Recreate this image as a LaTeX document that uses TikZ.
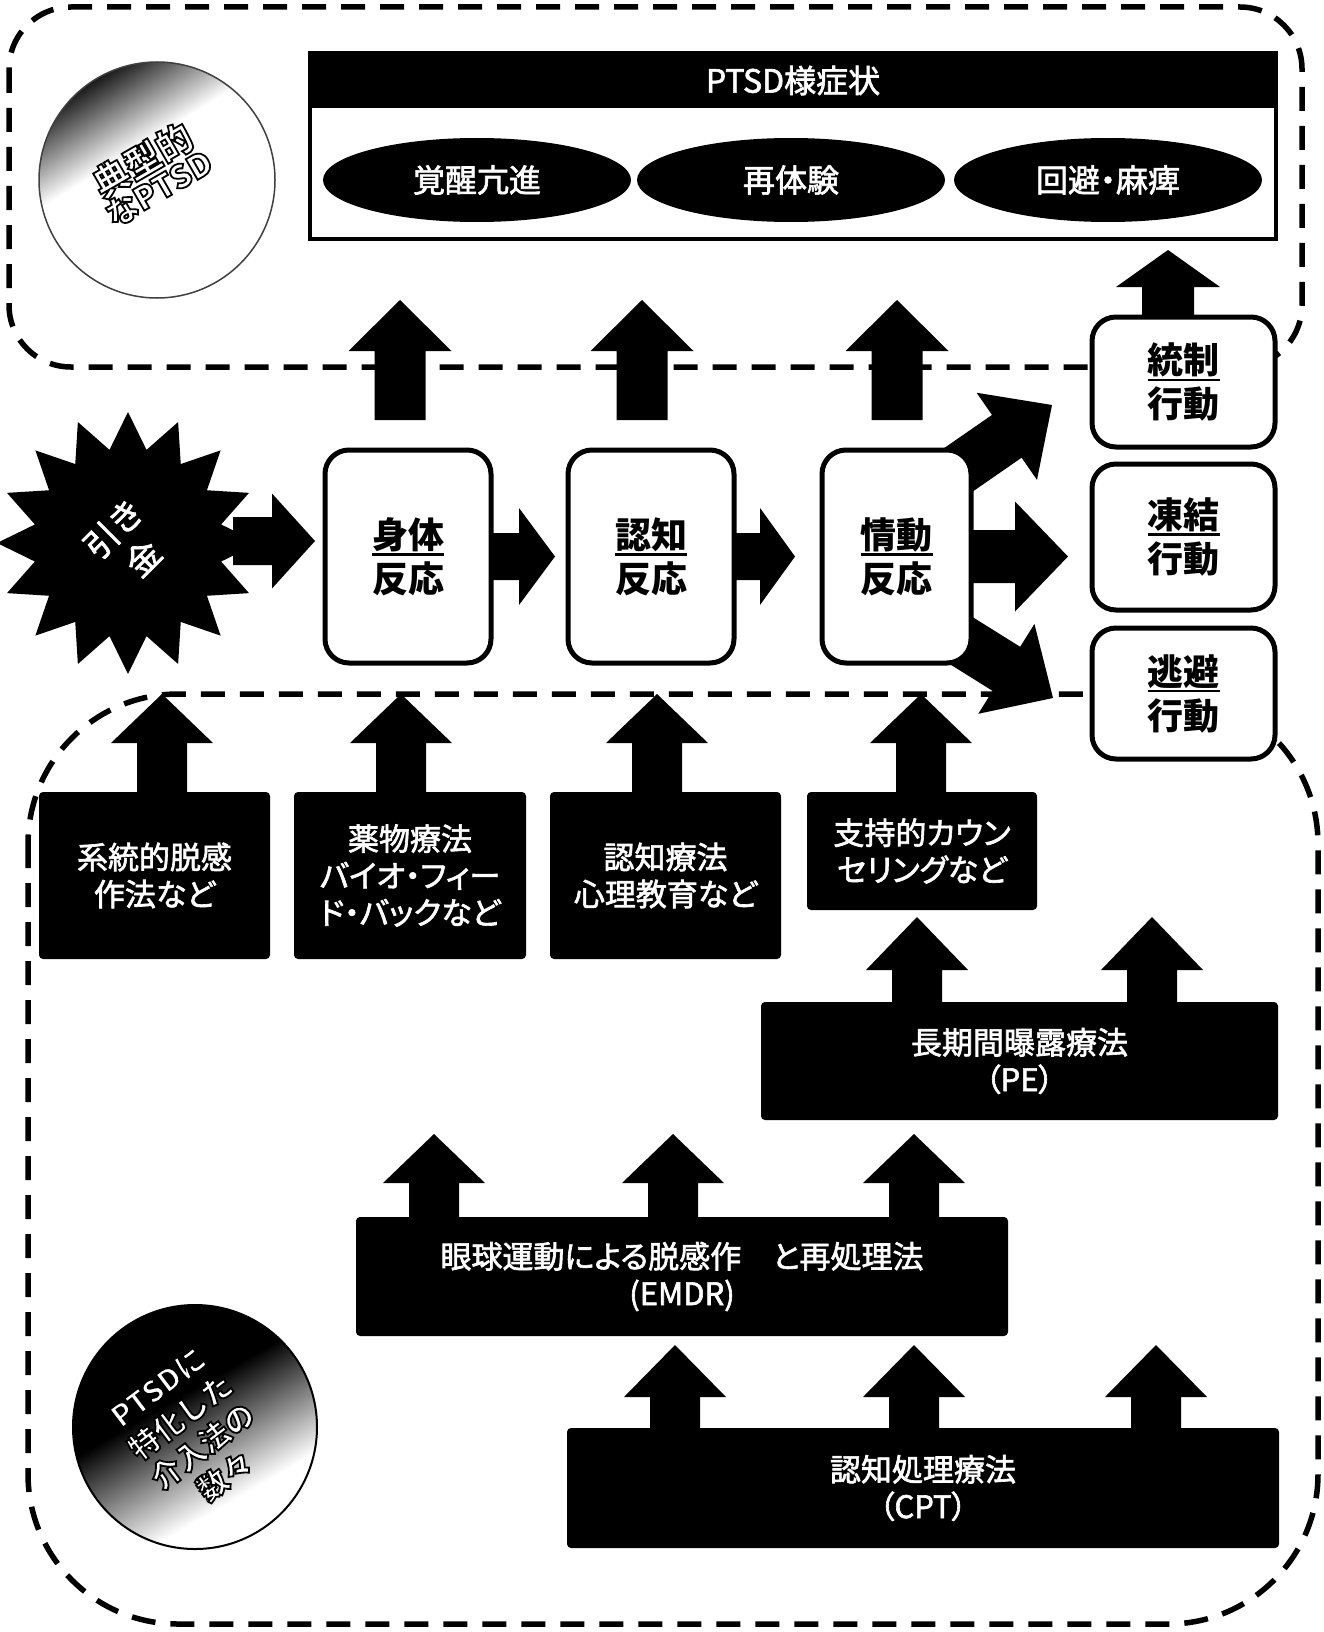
\documentclass[tikz,border=0pt]{standalone}
\usepackage{fontspec}
\setmainfont{Noto Sans CJK JP}
\newfontfamily\jpp[RawFeature=+palt, FakeBold=2]{Noto Sans CJK JP}
\newfontfamily\jpm[FakeBold=2]{Noto Sans CJK JP}
\usetikzlibrary{shapes.geometric,calc,backgrounds}
\pgfdeclarelayer{bgA}
\pgfdeclarelayer{bgB}
\pgfsetlayers{bgA,bgB,main}
\pgfdeclareverticalshading{fadeA}{100bp}{color(0bp)=(white); color(58bp)=(white); color(77bp)=(black); color(100bp)=(black)}
\pgfdeclareverticalshading{fadeB}{100bp}{color(0bp)=(white); color(33bp)=(white); color(57bp)=(black); color(100bp)=(black)}
\newcommand\myul[1]{\leavevmode\vtop{\hbox{#1}\kern1.5pt\hrule height 2.6pt}}
\newcommand\outl[1]{\special{pdf:literal direct 2 Tr 1.8 w 0 G}#1\special{pdf:literal direct 0 Tr}}
\newcommand\fatarrow[5]{%
  \path ($(#2)!#5!(#1)$) coordinate (fahd);
  \fill[black] ($(#1)!#3!90:(#2)$) -- ($(fahd)!#3!90:(#2)$) -- ($(fahd)!#4!90:(#2)$) -- (#2)
     -- ($(fahd)!#4!-90:(#2)$) -- ($(fahd)!#3!-90:(#2)$) -- ($(#1)!#3!-90:(#2)$) -- cycle;}
\begin{document}
\begin{tikzpicture}[x=1pt,y=-1pt,
  rbox/.style={draw, line width=5pt, rounded corners=24pt, fill=white, align=center, inner sep=0pt, outer sep=0pt, font=\bfseries\fontsize{36}{44}\selectfont},
  tbox/.style={fill=black, rounded corners=4pt, text=white, align=center, inner sep=0pt, outer sep=0pt, font=\jpp\fontsize{31}{37}\selectfont},
  ell/.style={ellipse, fill=black, text=white, minimum width=308pt, minimum height=84pt, inner sep=0pt, outer sep=0pt, font=\jpp\fontsize{32}{38}\selectfont},
  dashline/.style={line width=5.5pt, dash pattern=on 24pt off 15pt},
  ]
\useasboundingbox (0,0) rectangle (1323,1632);
\begin{pgfonlayer}{bgA}
\fill[white] (0,0) rectangle (1323,1632);
\draw[dashline, rounded corners=62pt] (9,7) rectangle (1302,367);
\draw[dashline, rounded corners=150pt] (28,694) rectangle (1318,1624);
\end{pgfonlayer}

% circles
\node[circle, shade, shading=fadeA, shading angle=32, draw=black!75, line width=1.5pt, minimum size=236pt, inner sep=0pt] (c1) at (157,180) {};
\node[rotate=30, text=white, align=center, font=\bfseries] (c1t) at (150,173) {{\fontsize{36}{48}\selectfont\outl{典型的}}\\{\fontsize{32}{40}\selectfont\outl{なPTSD}}};
\node[circle, shade, shading=fadeB, shading angle=30, draw, line width=2pt, minimum size=244pt, inner sep=0pt] (c2) at (195,1427) {};
\node[rotate=37, text=white, align=center, font=\bfseries\fontsize{30}{37}\selectfont] (c2t) at (192,1432) {\outl{PTSDに}\\\outl{特化した}\\\outl{介入法の}\\\outl{数々}};

% PTSD box
\node[fill=black, text=white, minimum width=966pt, minimum height=55pt, anchor=north west, inner sep=0pt, outer sep=0pt, font=\jpm\fontsize{32}{38}\selectfont] (hdr) at (310,53) {PTSD様症状};
\node[draw, line width=3.5pt, minimum width=966pt, minimum height=186pt, anchor=north west, inner sep=0pt, outer sep=0pt] (ptsd) at (310,53) {};
\node[ell] (e1) at (477,180) {覚醒亢進};
\node[ell] (e2) at (791,180) {再体験};
\node[ell] (e3) at (1108,180) {回避・麻痺};

% trigger
\node[star, star points=16, star point ratio=1.38, minimum size=262pt, fill=black, inner sep=0pt, rotate=45, text=white, align=center, font=\jpm\fontsize{34}{42}\selectfont] (trig) at (128,543) {引き\\金};

% reaction boxes
\node[rbox, minimum width=166pt, minimum height=213pt] (shintai) at (408,556.5) {\myul{身体}\\反応};
\node[rbox, minimum width=166pt, minimum height=213pt] (ninchi) at (651,556.5) {\myul{認知}\\反応};
\node[rbox, minimum width=149pt, minimum height=213pt] (jodo) at (896.5,556.5) {\myul{情動}\\反応};

% behaviour boxes
\node[rbox, minimum width=183pt, minimum height=130pt] (tosei) at (1183.5,382) {\myul{統制}\\行動};
\node[rbox, minimum width=183pt, minimum height=146pt] (toketsu) at (1183.5,537) {\myul{凍結}\\行動};
\node[rbox, minimum width=183pt, minimum height=131pt] (tohi) at (1183.5,693.5) {\myul{逃避}\\行動};

% treatment boxes
\node[tbox, minimum width=231pt, minimum height=167pt] (kei) at (154.5,875.5) {系統的脱感\\作法など};
\node[tbox, minimum width=232pt, minimum height=167pt] (yaku) at (410,875.5) {薬物療法\\バイオ・フィー\\ド・バックなど};
\node[tbox, minimum width=231pt, minimum height=167pt] (ninchiryo) at (665.5,875.5) {認知療法\\心理教育など};
\node[tbox, minimum width=230pt, minimum height=118pt] (shiji) at (922,851) {支持的カウン\\セリングなど};
\node[tbox, minimum width=517pt, minimum height=118pt] (pe) at (1019.5,1061) {長期間曝露療法\\（PE）};
\node[tbox, minimum width=652pt, minimum height=119pt] (emdr) at (682,1276.5) {眼球運動による脱感作　と再処理法\\(EMDR)};
\node[tbox, minimum width=712pt, minimum height=120pt] (cpt) at (923,1488) {認知処理療法\\（CPT）};

\begin{pgfonlayer}{bgB}
% reaction -> symptoms
\coordinate (u1s) at ($(shintai.north)+(-8,-30)$);
\coordinate (u1t) at ($(shintai.north)+(-8,-150)$);
\coordinate (u2s) at ($(ninchi.north)+(-9,-30)$);
\coordinate (u2t) at ($(ninchi.north)+(-9,-150)$);
\coordinate (u3s) at ($(jodo.north)+(0.5,-30)$);
\coordinate (u3t) at ($(jodo.north)+(0.5,-150)$);
\fatarrow{u1s}{u1t}{25.5pt}{51.5pt}{51pt}
\fatarrow{u2s}{u2t}{25.5pt}{51.5pt}{51pt}
\fatarrow{u3s}{u3t}{25.5pt}{51.5pt}{51pt}
% control -> symptoms
\coordinate (u4s) at ($(tosei.north)+(-15.5,0)$);
\coordinate (u4t) at ($(tosei.north)+(-15.5,-67)$);
\fatarrow{u4s}{u4t}{26pt}{52pt}{37pt}
% chain
\coordinate (h1s) at ($(trig.center)+(105,-2)$);
\coordinate (h1t) at ($(shintai.west)+(-10,-15.5)$);
\fatarrow{h1s}{h1t}{24pt}{47.5pt}{43pt}
\coordinate (h2s) at (shintai.east);
\coordinate (h2t) at ($(ninchi.west)+(-13,0)$);
\fatarrow{h2s}{h2t}{23.5pt}{48.5pt}{36pt}
\coordinate (h3s) at (ninchi.east);
\coordinate (h3t) at ($(jodo.west)+(-27,0)$);
\fatarrow{h3s}{h3t}{23.5pt}{48.5pt}{35pt}
% emotion -> behaviours
\coordinate (d1s) at ($(jodo.center)+(40,-71.5)$);
\coordinate (d1t) at ($(jodo.center)+(155.5,-151.5)$);
\fatarrow{d1s}{d1t}{26pt}{53pt}{55pt}
\coordinate (d2s) at ($(jodo.center)+(40,0)$);
\coordinate (d2t) at ($(jodo.east)+(97,0)$);
\fatarrow{d2s}{d2t}{26.5pt}{55pt}{53pt}
\coordinate (d3s) at ($(jodo.center)+(37.8,67.3)$);
\coordinate (d3t) at ($(jodo.center)+(156.5,141.5)$);
\fatarrow{d3s}{d3t}{26pt}{53pt}{55pt}
% treatments -> reactions
\coordinate (t1s) at ($(kei.north)+(7.5,0)$);
\coordinate (t1t) at ($(kei.north)+(7.5,-98)$);
\fatarrow{t1s}{t1t}{25pt}{51pt}{49pt}
\coordinate (t2s) at ($(yaku.north)+(-9,0)$);
\coordinate (t2t) at ($(yaku.north)+(-9,-98)$);
\fatarrow{t2s}{t2t}{25pt}{51pt}{49pt}
\coordinate (t3s) at ($(ninchiryo.north)+(-8.5,0)$);
\coordinate (t3t) at ($(ninchiryo.north)+(-8.5,-98)$);
\fatarrow{t3s}{t3t}{25pt}{51pt}{49pt}
\coordinate (t4s) at ($(shiji.north)+(-1,0)$);
\coordinate (t4t) at ($(shiji.north)+(-1,-98)$);
\fatarrow{t4s}{t4t}{25pt}{51pt}{49pt}
% PE
\coordinate (p1s) at ($(pe.north)+(-102.5,0)$);
\coordinate (p1t) at ($(pe.north)+(-102.5,-85)$);
\fatarrow{p1s}{p1t}{25pt}{51pt}{53pt}
\coordinate (p2s) at ($(pe.north)+(132.5,0)$);
\coordinate (p2t) at ($(pe.north)+(132.5,-85)$);
\fatarrow{p2s}{p2t}{25pt}{51pt}{53pt}
% EMDR
\coordinate (m1s) at ($(emdr.north)+(-248,0)$);
\coordinate (m1t) at ($(emdr.north)+(-248,-83)$);
\fatarrow{m1s}{m1t}{25pt}{51pt}{49pt}
\coordinate (m2s) at ($(emdr.north)+(-9,0)$);
\coordinate (m2t) at ($(emdr.north)+(-9,-83)$);
\fatarrow{m2s}{m2t}{25pt}{51pt}{49pt}
\coordinate (m3s) at ($(emdr.north)+(232,0)$);
\coordinate (m3t) at ($(emdr.north)+(232,-83)$);
\fatarrow{m3s}{m3t}{25pt}{51pt}{49pt}
% CPT
\coordinate (k1s) at ($(cpt.north)+(-248,0)$);
\coordinate (k1t) at ($(cpt.north)+(-248,-83)$);
\fatarrow{k1s}{k1t}{25pt}{51pt}{52pt}
\coordinate (k2s) at ($(cpt.north)+(-9,0)$);
\coordinate (k2t) at ($(cpt.north)+(-9,-83)$);
\fatarrow{k2s}{k2t}{25pt}{51pt}{52pt}
\coordinate (k3s) at ($(cpt.north)+(233,0)$);
\coordinate (k3t) at ($(cpt.north)+(233,-83)$);
\fatarrow{k3s}{k3t}{25pt}{51pt}{52pt}
\end{pgfonlayer}
\end{tikzpicture}
\end{document}
